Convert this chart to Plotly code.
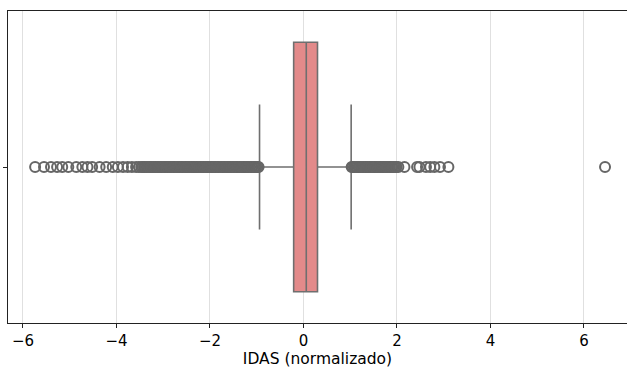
import plotly.graph_objects as go

# Box statistics (IDAS normalizado)
q1 = [-0.21]
median = [0.06]
q3 = [0.30]
lower_fence = [-0.94]
upper_fence = [1.02]

# Outliers (sparse tails + dense runs near the whiskers)
outliers_low = [-5.74, -5.55, -5.40, -5.27, -5.16, -5.03, -4.86, -4.73, -4.62, -4.52,
                -4.36, -4.22, -4.08, -3.97, -3.86, -3.76, -3.67, -3.58, -3.52, -3.47,
                -3.44, -3.41, -3.38, -3.35, -3.33, -3.30, -3.27, -3.25, -3.22, -3.19,
                -3.17, -3.14, -3.11, -3.09, -3.06, -3.03, -3.01, -2.98, -2.95, -2.93,
                -2.90, -2.87, -2.85, -2.82, -2.79, -2.77, -2.74, -2.71, -2.69, -2.66,
                -2.63, -2.61, -2.58, -2.55, -2.53, -2.50, -2.47, -2.45, -2.42, -2.39,
                -2.37, -2.34, -2.31, -2.29, -2.26, -2.23, -2.21, -2.18, -2.15, -2.13,
                -2.10, -2.07, -2.05, -2.02, -1.99, -1.97, -1.94, -1.91, -1.89, -1.86,
                -1.83, -1.81, -1.78, -1.75, -1.73, -1.70, -1.67, -1.65, -1.62, -1.59,
                -1.57, -1.54, -1.51, -1.49, -1.46, -1.43, -1.41, -1.38, -1.35, -1.33,
                -1.30, -1.27, -1.25, -1.22, -1.19, -1.17, -1.14, -1.11, -1.09, -1.06,
                -1.03, -1.01, -0.98, -0.96]
outliers_high = [1.03, 1.05, 1.08, 1.10, 1.13, 1.15, 1.18, 1.20, 1.23, 1.25,
                 1.28, 1.30, 1.33, 1.35, 1.38, 1.40, 1.43, 1.45, 1.48, 1.50,
                 1.53, 1.55, 1.58, 1.60, 1.63, 1.65, 1.68, 1.70, 1.73, 1.75,
                 1.78, 1.80, 1.83, 1.85, 1.88, 1.90, 1.93, 1.96, 1.99, 2.03,
                 2.16, 2.43, 2.48, 2.62, 2.71, 2.80, 2.92, 3.10, 6.45]

x_ticks = [-6, -4, -2, 0, 2, 4, 6]
x_tick_labels = ["−6", "−4", "−2", "0", "2", "4", "6"]
x_title = "IDAS (normalizado)"

position = 0
outliers = outliers_low + outliers_high

fig = go.Figure()
fig.add_trace(go.Box(
    y=[position], q1=q1, median=median, q3=q3,
    lowerfence=lower_fence, upperfence=upper_fence,
    orientation="h", width=0.8, whiskerwidth=0.5,
    boxpoints=False,
    fillcolor="#E38A8A",
    line=dict(color="#6f6f6f", width=1.6),
    showlegend=False,
))
fig.add_trace(go.Scatter(
    x=outliers, y=[position for _ in outliers],
    mode="markers",
    marker=dict(symbol="circle-open", size=10, color="#666666", line=dict(width=2)),
    showlegend=False,
))

fig.update_layout(
    width=627, height=368,
    margin=dict(l=8, r=0, t=11, b=45),
    plot_bgcolor="white", paper_bgcolor="white",
    font=dict(family="DejaVu Sans", color="black", size=15),
)
fig.update_xaxes(
    range=[-6.32, 6.92], tickvals=x_ticks, ticktext=x_tick_labels,
    showgrid=True, gridcolor="#e0e0e0", gridwidth=1, zeroline=False,
    showline=True, linecolor="#222222", linewidth=1.3, mirror=True,
    ticks="outside", ticklen=4, tickcolor="#222222",
    title=dict(text=x_title, font=dict(size=15.5), standoff=5),
    tickfont=dict(size=15), automargin=False,
)
fig.update_yaxes(
    type="linear", range=[-0.5, 0.5], tickvals=[0], ticktext=[""],
    showgrid=False, zeroline=False,
    showline=True, linecolor="#222222", linewidth=1.3,
    ticks="outside", ticklen=4, tickcolor="#222222", automargin=False,
)

fig.write_html("out.html", config={"displayModeBar": False},
               post_script="document.body.style.margin='0';")
